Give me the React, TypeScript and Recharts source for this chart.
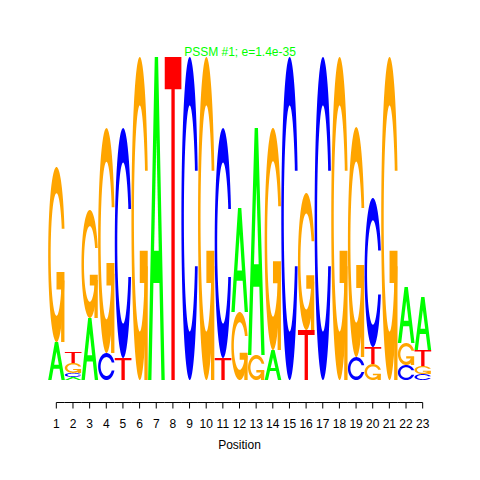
import React from "react";
import { BarChart, Bar, XAxis, YAxis } from "recharts";

// information content (bits) per letter at each motif position
const positions = [1, 2, 3, 4, 5, 6, 7, 8, 9, 10, 11, 12, 13, 14, 15, 16, 17, 18, 19, 20, 21, 22, 23];
const bitsA = [0.235, 0.019, 0.384, 0, 0, 0, 2.0, 0, 0, 0, 0, 0.644, 1.406, 0.186, 0, 0, 0, 0, 0, 0, 0, 0.347, 0.328];
const bitsC = [0, 0.025, 0, 0.167, 1.424, 0, 0, 0, 2.0, 0, 1.424, 0, 0, 0, 2.0, 0, 2.0, 0, 0.142, 0.923, 0, 0.093, 0.037];
const bitsG = [1.084, 0.062, 0.669, 1.393, 0, 2.0, 0, 0, 0, 2.0, 0, 0.421, 0.155, 1.375, 0, 0.848, 0, 2.0, 1.424, 0.099, 2.0, 0.136, 0.05];
const bitsT = [0, 0.068, 0, 0, 0.136, 0, 0, 2.0, 0, 0, 0.136, 0, 0, 0, 0, 0.31, 0, 0, 0, 0.105, 0, 0, 0.099];

const TITLE = "PSSM #1; e=1.4e-35";

const LETTER_COLORS: Record<string, string> = {
  A: "#00ff00",
  C: "#0000ff",
  G: "#ffa500",
  T: "#ff0000",
};

const FONT = '"Liberation Sans", Arial, Helvetica, sans-serif';
const CHART_W = 464;
const CHART_H = 464;
const MARGIN = { top: 49, right: 41, bottom: 10, left: 40 };
const BAND = (CHART_W - MARGIN.left - MARGIN.right) / positions.length;

// stack layers, smallest letter at the bottom
const logoData = positions.map((pos, i) => {
  const letters = [
    { k: "A", h: bitsA[i] },
    { k: "C", h: bitsC[i] },
    { k: "G", h: bitsG[i] },
    { k: "T", h: bitsT[i] },
  ].sort((a, b) => a.h - b.h);
  const row: Record<string, any> = { pos };
  letters.forEach((l, j) => {
    row[`h${j}`] = l.h;
    row[`k${j}`] = l.k;
  });
  return row;
});

// letter outlines in a unit box (y up), like the classic seqLogo polygons
type Pt = [number, number];
const range = (a: number, b: number, n: number) =>
  Array.from({ length: n }, (_, i) => a + ((b - a) * i) / (n - 1));

const buildC = (): Pt[] => {
  const a1 = range(0.3 + Math.PI / 2, Math.PI, 40);
  const a2 = range(Math.PI, 1.5 * Math.PI, 40);
  const outerL: Pt[] = [...a1, ...a2].map((a) => [0.5 + 0.5 * Math.sin(a), 0.5 + 0.5 * Math.cos(a)]);
  const outer: Pt[] = [...outerL, ...outerL.slice().reverse().map(([x, y]) => [x, 1 - y] as Pt)];
  const yMax = 0.5 + 0.5 * Math.cos(0.3 + Math.PI / 2);
  const in1: Pt[] = a1
    .map((a) => [0.5 + 0.35 * Math.sin(a), 0.5 + 0.35 * Math.cos(a)] as Pt)
    .filter((p) => p[1] <= yMax);
  in1[0] = [in1[0][0], yMax];
  const in2: Pt[] = a2.map((a) => [0.5 + 0.35 * Math.sin(a), 0.5 + 0.35 * Math.cos(a)]);
  const innerL = [...in1, ...in2];
  const inner: Pt[] = [...innerL, ...innerL.slice().reverse().map(([x, y]) => [x, 1 - y] as Pt)];
  return [...outer, ...inner.reverse()];
};

const C_POLY = buildC();
const R1 = 0.5 + 0.5 * Math.cos(0.3);
const G_BAR: Pt[] = [[R1, 0.4], [0.5, 0.4], [0.5, 0.3], [R1 - 0.2, 0.3], [R1 - 0.2, 0], [R1, 0]];
const A_POLY: Pt[] = [[0, 0], [0.4, 1], [0.6, 1], [1, 0], [0.8, 0], [0.68, 0.3], [0.32, 0.3], [0.2, 0]];
const A_HOLE: Pt[] = [[0.36, 0.4], [0.5, 0.75], [0.64, 0.4]];
const T_POLY: Pt[] = [[0, 1], [1, 1], [1, 0.9], [0.6, 0.9], [0.6, 0], [0.4, 0], [0.4, 0.9], [0, 0.9]];

const LetterShape = (props: any) => {
  const { x, y, width, height, layer, index } = props;
  const row = props.payload || logoData[index];
  const letter = row ? row[`k${layer}`] : null;
  if (!letter || !height || Math.abs(height) < 0.01) return null;
  const top = Math.min(y, y + height);
  const h = Math.abs(height);
  const bottom = top + h;
  const left = x + width / 2 - BAND / 2;
  const pts = (poly: Pt[]) =>
    poly.map(([u, v]) => `${(left + u * BAND).toFixed(2)},${(bottom - v * h).toFixed(2)}`).join(" ");
  const fill = LETTER_COLORS[letter];
  if (letter === "A") {
    return (
      <g>
        <polygon points={pts(A_POLY)} fill={fill} />
        <polygon points={pts(A_HOLE)} fill="#ffffff" />
      </g>
    );
  }
  if (letter === "C") return <polygon points={pts(C_POLY)} fill={fill} />;
  if (letter === "G") {
    return (
      <g>
        <polygon points={pts(C_POLY)} fill={fill} />
        <polygon points={pts(G_BAR)} fill={fill} />
      </g>
    );
  }
  return <polygon points={pts(T_POLY)} fill={fill} />;
};

const PositionTick = (props: any) => {
  const { x, y, payload } = props;
  const i = positions.indexOf(payload.value);
  const ay = Math.round(y) + 0.5;
  const x1 = i === 0 ? x : x - BAND / 2;
  const x2 = i === positions.length - 1 ? x : x + BAND / 2;
  return (
    <g>
      <line x1={x1} x2={x2} y1={ay} y2={ay} stroke="#000" strokeWidth={1} />
      <line x1={x} x2={x} y1={ay} y2={ay + 6} stroke="#000" strokeWidth={1} />
      <text x={x} y={ay + 25} textAnchor="middle" fontSize={12} fontFamily={FONT} fill="#000">
        {payload.value}
      </text>
    </g>
  );
};

const App: React.FC = () => {
  return (
    <div style={{ position: "relative", width: CHART_W, height: CHART_H, fontFamily: FONT }}>
      <BarChart
        width={CHART_W}
        height={CHART_H}
        data={logoData}
        margin={MARGIN}
        barCategoryGap={0}
        barGap={0}
      >
        <XAxis
          dataKey="pos"
          type="category"
          interval={0}
          axisLine={false}
          tickLine={false}
          tickSize={0}
          tickMargin={0}
          height={60}
          tick={<PositionTick />}
          label={{ value: "Position", position: "insideBottom", offset: 13, fill: "#000", fontSize: 12, fontFamily: FONT }}
        />
        <YAxis hide type="number" domain={[-0.136, 2]} allowDataOverflow />
        {[0, 1, 2, 3].map((layer) => (
          <Bar
            key={layer}
            dataKey={`h${layer}`}
            stackId="logo"
            isAnimationActive={false}
            shape={(p: any) => <LetterShape {...p} layer={layer} />}
          />
        ))}
      </BarChart>
      <div
        style={{
          position: "absolute",
          left: 0,
          top: 38,
          width: CHART_W,
          textAlign: "center",
          fontSize: 12,
          lineHeight: "12px",
          color: "#00ff00",
        }}
      >
        {TITLE}
      </div>
    </div>
  );
};

export default App;
